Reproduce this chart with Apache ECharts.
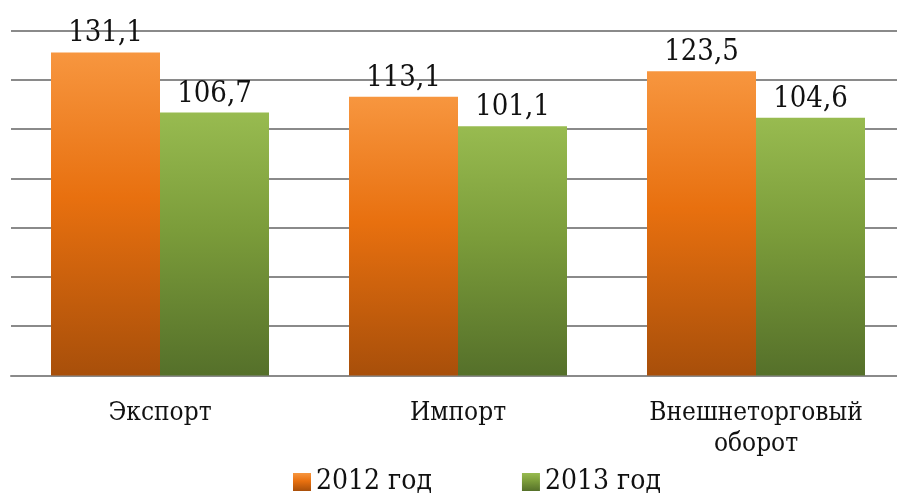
<!DOCTYPE html>
<html>
<head>
<meta charset="utf-8">
<script src="https://cdn.jsdelivr.net/npm/echarts@6/dist/echarts.min.js"></script>
<style>
  html, body { margin: 0; padding: 0; background: #fff; }
  #main { width: 897px; height: 493px; }
</style>
</head>
<body>
<div id="main"></div>
<script>
// data
var categories = ['Экспорт', 'Импорт', 'Внешнеторговый\nоборот'];
var values2012 = [131.1, 113.1, 123.5];
var values2013 = [106.7, 101.1, 104.6];
var seriesNames = ['2012 год', '2013 год'];

var serif = '"DejaVu Serif Condensed", "DejaVu Serif", serif';

function grad(top, mid, bottom) {
  return new echarts.graphic.LinearGradient(0, 0, 0, 1, [
    {offset: 0, color: top},
    {offset: 0.45, color: mid},
    {offset: 1, color: bottom}
  ]);
}

var labelStyle = {
  show: true,
  position: 'top',
  distance: 4,
  fontFamily: serif,
  fontSize: 29,
  color: '#111',
  formatter: function (p) {
    return p.value.toFixed(1).replace('.', ',');
  }
};

var chartDom = document.getElementById('main');
var myChart = echarts.init(chartDom);

var option = {
  animation: false,
  grid: {
    left: 11,
    width: 894,
    top: 30.5,
    height: 345,
    outerBoundsMode: 'none'
  },
  legend: {
    data: seriesNames,
    bottom: -8,
    left: 288,
    itemWidth: 18,
    itemHeight: 18,
    itemGap: 90,
    itemStyle: {borderWidth: 0},
    icon: 'rect',
    textStyle: {
      fontFamily: serif,
      fontSize: 28,
      color: '#111',
      padding: [0, 0, 0, 0]
    }
  },
  xAxis: {
    type: 'category',
    data: categories,
    axisTick: {show: false},
    axisLine: {lineStyle: {color: '#8a8a8a', width: 2}},
    axisLabel: {
      fontFamily: serif,
      fontSize: 26,
      color: '#111',
      margin: 22,
      lineHeight: 31
    }
  },
  yAxis: {
    type: 'value',
    min: 0,
    max: 140,
    interval: 20,
    axisLabel: {show: false},
    axisLine: {show: false},
    axisTick: {show: false},
    splitLine: {lineStyle: {color: '#8a8a8a', width: 2}}
  },
  series: [
    {
      name: seriesNames[0],
      type: 'bar',
      data: values2012,
      barWidth: 109,
      barGap: '0%',
      itemStyle: {color: grad('#f7963f', '#e8700f', '#a84f0a')},
      label: labelStyle
    },
    {
      name: seriesNames[1],
      type: 'bar',
      data: values2013,
      barWidth: 109,
      itemStyle: {color: grad('#98bb50', '#7b9c3a', '#55702a')},
      label: labelStyle
    }
  ]
};

option && myChart.setOption(option);
</script>
</body>
</html>
